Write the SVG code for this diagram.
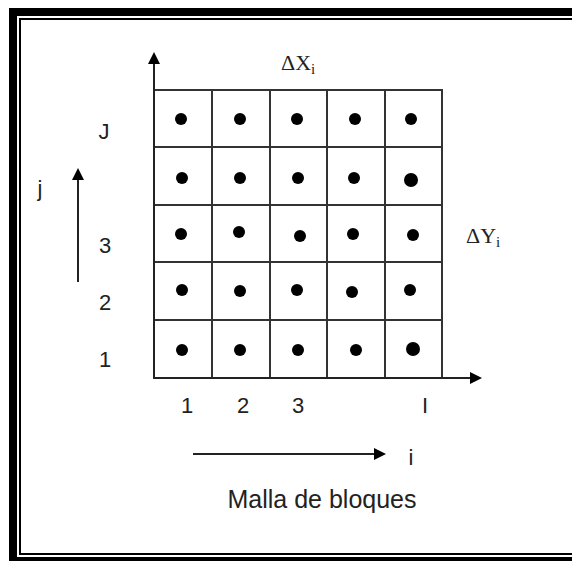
<svg xmlns="http://www.w3.org/2000/svg" width="572" height="561" viewBox="0 0 572 561">
<style>
.t{font-family:"Liberation Sans",Arial,sans-serif;font-size:22px;fill:#222;text-anchor:middle}
.s{font-family:"Liberation Serif","Times New Roman",serif;font-size:22px;fill:#222}
.g{stroke:#333;stroke-width:2;fill:none}
.a{stroke:#222;stroke-width:2;fill:none}
.d{fill:#000}
</style>
<defs>
<marker id="ah" markerWidth="12" markerHeight="12" refX="10" refY="6" orient="auto" markerUnits="userSpaceOnUse">
<path d="M0,0 L12,6 L0,12 Z" fill="#000"/>
</marker>
</defs>
<rect width="572" height="561" fill="#fff"/>
<g id="frame">
<rect x="9" y="8" width="563" height="8" fill="#000"/>
<rect x="9" y="8" width="8" height="553" fill="#000"/>
<rect x="9" y="557" width="563" height="4" fill="#000"/>
<path d="M572,19 H20 V554 H572" stroke="#000" stroke-width="2" fill="none"/>
</g>
<g id="grid">
<rect class="g" x="154" y="90" width="288" height="288"/>
<path class="g" d="M212,90 V378 M270,90 V378 M327,90 V378 M385,90 V378 M154,147 H442 M154,205 H442 M154,262 H442 M154,320 H442"/>
</g>
<g id="connectors">
<line class="a" x1="154" y1="378" x2="154" y2="54" marker-end="url(#ah)"/>
<line class="a" x1="154" y1="378" x2="480" y2="378" marker-end="url(#ah)"/>
<line class="a" x1="78" y1="282" x2="78" y2="170" marker-end="url(#ah)"/>
<line class="a" x1="193" y1="454" x2="384" y2="454" marker-end="url(#ah)"/>
</g>
<g id="dots">
<circle class="d" cx="181" cy="119" r="6"/><circle class="d" cx="240" cy="119" r="6"/><circle class="d" cx="297" cy="119" r="6"/><circle class="d" cx="355" cy="119" r="6"/><circle class="d" cx="411" cy="119" r="6"/>
<circle class="d" cx="182" cy="178" r="6"/><circle class="d" cx="240" cy="178" r="6"/><circle class="d" cx="298" cy="178" r="6"/><circle class="d" cx="354" cy="178" r="6"/><circle class="d" cx="411" cy="180" r="7"/>
<circle class="d" cx="181" cy="234" r="6"/><circle class="d" cx="239" cy="232" r="6"/><circle class="d" cx="300" cy="236" r="6"/><circle class="d" cx="353" cy="234" r="6"/><circle class="d" cx="413" cy="235" r="6"/>
<circle class="d" cx="182" cy="290" r="6"/><circle class="d" cx="240" cy="291" r="6"/><circle class="d" cx="297" cy="290" r="6"/><circle class="d" cx="352" cy="292" r="6"/><circle class="d" cx="410" cy="290" r="6"/>
<circle class="d" cx="182" cy="350" r="6"/><circle class="d" cx="240" cy="350" r="6"/><circle class="d" cx="298" cy="350" r="6"/><circle class="d" cx="356" cy="350" r="6"/><circle class="d" cx="413" cy="349" r="7"/>
</g>
<g id="labels">
<text class="s" x="281" y="70">ΔX<tspan font-size="15" dy="4">i</tspan></text>
<text class="s" x="466" y="243">ΔY<tspan font-size="15" dy="4">i</tspan></text>
<text class="t" x="104" y="139">J</text>
<text class="t" x="40" y="196">j</text>
<text class="t" x="105" y="253">3</text>
<text class="t" x="105" y="310">2</text>
<text class="t" x="105" y="367">1</text>
<text class="t" x="187" y="413">1</text>
<text class="t" x="243" y="413">2</text>
<text class="t" x="298" y="413">3</text>
<text class="t" x="425" y="413">I</text>
<text class="t" x="411" y="465">i</text>
<text class="t" x="322" y="508" style="font-size:25px">Malla de bloques</text>
</g>
</svg>
